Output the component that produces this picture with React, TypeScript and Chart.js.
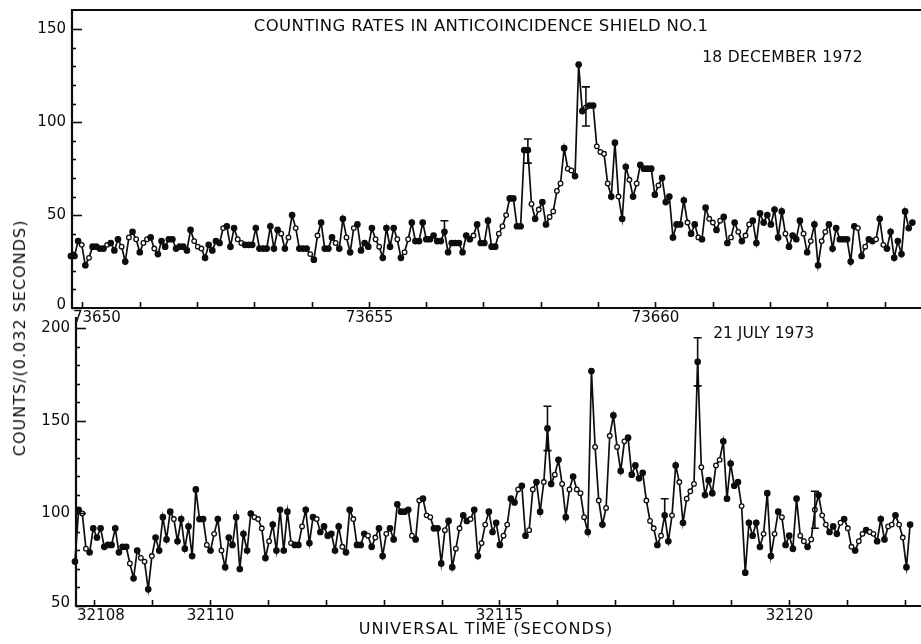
import React, { useEffect, useRef } from 'react';
import { Chart, registerables } from 'chart.js';

Chart.register(...registerables);

const INK = '#0d0d0d';
const FONT_FAMILY = '"DejaVu Sans", "Liberation Sans", sans-serif';

// Width of one counting bin along the time axis (seconds)
const BIN = 0.0633;

// ---- 18 December 1972 ----
const decStart = 73649.8;
const decCounts = [
  28, 28, 36, 34, 23, 27, 33, 33, 32, 32, 34, 35, 31, 37, 33, 25, 38, 41, 37, 30,
  35, 37, 38, 32, 29, 36, 33, 37, 37, 32, 33, 33, 31, 42, 36, 33, 32, 27, 34, 31,
  36, 35, 43, 44, 33, 43, 37, 35, 34, 34, 34, 43, 32, 32, 32, 44, 32, 42, 40, 32,
  38, 50, 43, 32, 32, 32, 29, 26, 39, 46, 32, 32, 38, 35, 32, 48, 38, 30, 43, 45,
  31, 35, 33, 43, 37, 33, 27, 43, 33, 43, 37, 27, 30, 37, 46, 36, 36, 46, 37, 37,
  39, 36, 36, 41, 30, 35, 35, 35, 30, 39, 37, 39, 45, 35, 35, 47, 33,
  33, 40, 44, 50, 59, 59, 44, 44, 85, 85, 56, 48, 53, 57, 45, 49, 52, 63, 67, 86,
  75, 74, 71, 131, 106, 108, 109, 109, 87, 84, 83, 67, 60, 89, 60, 48, 76, 69, 60, 67,
  77, 75, 75, 75, 61, 66, 70, 57, 60, 38, 45, 45, 58, 46, 40, 45, 38, 37, 54,
  48, 46, 42, 47, 49, 35, 38, 46, 41, 36, 39, 45, 47, 35, 51, 46, 50, 45, 53, 38,
  52, 40, 33, 39, 37, 47, 40, 30, 36, 45, 23, 36, 41, 45, 32, 43, 37, 37, 37, 25,
  44, 43, 28, 33, 37, 36, 37, 48, 34, 32, 41, 27, 36, 29, 52, 43, 46,
];
const decErrIndex = [103, 126, 142];
const decErrLow = [41, 78, 98];
const decErrHigh = [47, 91, 119];
const decTimeLabels = [73650, 73655, 73660];
const decCountLabels = [0, 50, 100, 150];

// ---- 21 July 1973 ----
const julStart = 32107.664;
const julCounts = [
  74, 102, 100, 81, 79, 92, 87, 92, 82, 83, 83, 92, 79, 82, 82, 73, 65, 80, 76, 74,
  59, 77, 87, 80, 98, 86, 101, 97, 85, 97, 81, 93, 77, 113, 97, 97, 83, 80, 89, 97,
  80, 71, 87, 83, 98, 70, 89, 80, 100, 98, 97, 92, 76, 85, 94, 80, 102,
  80, 101, 84, 83, 83, 93, 102, 84, 98, 97, 90, 93, 88, 89, 80, 93, 82, 79, 102, 97,
  83, 83, 89, 88, 82, 87, 92, 77, 89, 92, 86, 105, 101, 101, 102, 88, 86, 107, 108, 99,
  98, 92, 92, 73, 91, 96, 71, 81, 92, 99, 96, 97, 102, 77, 84, 94, 101, 90,
  95, 83, 88, 94, 108, 106, 113, 115, 88, 91, 113, 117, 101, 117, 146, 116, 121, 129, 116, 98,
  113, 120, 113, 111, 98, 90, 177, 136, 107, 94, 103, 142, 153, 136, 123, 139, 141, 121, 126, 119,
  122, 107, 96, 92, 83, 88, 99, 85, 99, 126, 117, 95, 108, 112, 116, 182, 125,
  110, 118, 111, 126, 129, 139, 108, 127, 115, 117, 104, 68, 95, 88, 95, 82, 89, 111, 77, 89,
  101, 98, 83, 88, 81, 108, 88, 85, 82, 86, 102, 110, 99, 94, 90, 93, 89, 95, 97, 92,
  82, 80, 85, 89, 91, 90, 89, 85, 97, 86, 93, 94, 99, 94, 87, 71, 94,
];
const julErrIndex = [129, 161, 170, 202];
const julErrLow = [134, 99, 169, 92];
const julErrHigh = [158, 108, 195, 112];
const julTimeLabels = [32108, 32110, 32115, 32120];
const julCountLabels = [50, 100, 150, 200];

type Note = { text: string; x: number; y: number; size: number; spacing: number };

interface PanelSpec {
  counts: number[];
  start: number;
  errIndex: number[];
  errLow: number[];
  errHigh: number[];
  xMin: number;
  xMax: number;
  yMin: number;
  yMax: number;
  timeLabels: number[];
  countLabels: number[];
  padding: { left: number; top: number; right: number; bottom: number };
  topBorder: boolean;
  notes: Note[];
  xTitle?: { text: string; x: number; size: number; spacing: number };
}

const decSpec: PanelSpec = {
  counts: decCounts,
  start: decStart,
  errIndex: decErrIndex,
  errLow: decErrLow,
  errHigh: decErrHigh,
  xMin: 73649.82,
  xMax: 73664.544,
  yMin: 0,
  yMax: 160.4,
  timeLabels: decTimeLabels,
  countLabels: decCountLabels,
  padding: { left: 72, top: 10, right: 0, bottom: 22 },
  topBorder: true,
  notes: [
    { text: 'COUNTING RATES IN ANTICOINCIDENCE SHIELD NO.1', x: 73656.96, y: 151.2, size: 16.5, spacing: 0.35 },
    { text: '18 DECEMBER 1972', x: 73662.22, y: 134.8, size: 15.5, spacing: 0.3 },
  ],
};

const julSpec: PanelSpec = {
  counts: julCounts,
  start: julStart,
  errIndex: julErrIndex,
  errLow: julErrLow,
  errHigh: julErrHigh,
  xMin: 32107.682,
  xMax: 32122.193,
  yMin: 50,
  yMax: 206.2,
  timeLabels: julTimeLabels,
  countLabels: julCountLabels,
  padding: { left: 76, top: 7, right: 0, bottom: 38 },
  topBorder: false,
  notes: [{ text: '21 JULY 1973', x: 32119.566, y: 197, size: 15.5, spacing: 0 }],
  xTitle: { text: 'UNIVERSAL TIME (SECONDS)', x: 32114.766, size: 16, spacing: 1 },
};

function font(size: number) {
  return `${size}px ${FONT_FAMILY}`;
}

// Axes drawn by hand so ticks point inwards like a printed figure
function makeFramePlugin(spec: PanelSpec) {
  return {
    id: 'panelFrame',
    afterDatasetsDraw(chart: any) {
      const { ctx } = chart;
      const xs = chart.scales.x;
      const ys = chart.scales.y;
      ctx.save();
      ctx.strokeStyle = INK;
      ctx.lineWidth = 1.6;
      spec.errIndex.forEach((idx, k) => {
        const x = xs.getPixelForValue(spec.start + idx * BIN);
        const yl = ys.getPixelForValue(spec.errLow[k]);
        const yh = ys.getPixelForValue(spec.errHigh[k]);
        const yv = ys.getPixelForValue(spec.counts[idx]);
        ctx.beginPath();
        ctx.moveTo(x, yl);
        ctx.lineTo(x, yh);
        ctx.moveTo(x - 4, yh);
        ctx.lineTo(x + 4, yh);
        if (yl - yv > 2) {
          ctx.moveTo(x - 4, yl);
          ctx.lineTo(x + 4, yl);
        }
        ctx.stroke();
      });
      ctx.restore();
    },
    afterDraw(chart: any) {
      const { ctx, chartArea } = chart;
      const xs = chart.scales.x;
      const ys = chart.scales.y;
      const left = chartArea.left;
      const right = chart.width;
      const top = chartArea.top;
      const bottom = chartArea.bottom;
      ctx.save();
      ctx.strokeStyle = INK;
      ctx.fillStyle = INK;

      // frame
      ctx.lineWidth = 2.2;
      ctx.beginPath();
      if (spec.topBorder) {
        ctx.moveTo(right, top);
        ctx.lineTo(left, top);
      } else {
        ctx.moveTo(left, top);
      }
      ctx.lineTo(left, bottom);
      ctx.lineTo(right, bottom);
      ctx.stroke();

      // count ticks every 10, labelled every 50
      ctx.lineWidth = 1.6;
      const topLabel = spec.countLabels[spec.countLabels.length - 1];
      ctx.font = font(15);
      ctx.textAlign = 'right';
      ctx.textBaseline = 'middle';
      for (let v = spec.yMin; v <= topLabel; v += 10) {
        const y = Math.round(ys.getPixelForValue(v)) + 0.5;
        const major = spec.countLabels.includes(v);
        ctx.beginPath();
        ctx.moveTo(left, y);
        ctx.lineTo(left + (major ? 10 : 4), y);
        ctx.stroke();
        if (major) {
          const dy = v === spec.yMin ? -3 : 0;
          ctx.fillText(String(v), left - 6, y + dy);
        }
      }

      // time ticks every second
      ctx.textBaseline = 'top';
      ctx.textAlign = 'left';
      for (let t = Math.ceil(spec.xMin); t <= Math.floor(spec.xMax); t++) {
        const x = Math.round(xs.getPixelForValue(t)) + 0.5;
        ctx.beginPath();
        ctx.moveTo(x, bottom);
        ctx.lineTo(x, bottom - 6);
        ctx.stroke();
        if (spec.timeLabels.includes(t)) {
          const label = String(t);
          const w = ctx.measureText(label).width;
          const lx = Math.max(x - w / 2, left + 1);
          ctx.fillText(label, lx, bottom + 3);
        }
      }

      // annotations
      ctx.textAlign = 'center';
      ctx.textBaseline = 'middle';
      for (const n of spec.notes) {
        ctx.font = font(n.size);
        (ctx as any).letterSpacing = `${n.spacing}px`;
        ctx.fillText(n.text, xs.getPixelForValue(n.x), ys.getPixelForValue(n.y));
      }
      if (spec.xTitle) {
        const t = spec.xTitle;
        ctx.font = font(t.size);
        (ctx as any).letterSpacing = `${t.spacing}px`;
        ctx.fillText(t.text, xs.getPixelForValue(t.x), bottom + 24);
      }
      ctx.restore();
    },
  };
}

// Turning points get solid markers, the rest open ones
function markerFills(counts: number[]) {
  return counts.map((c, i) => {
    const prev = i > 0 ? counts[i - 1] : c;
    const next = i < counts.length - 1 ? counts[i + 1] : c;
    const extreme = (c >= prev && c >= next) || (c <= prev && c <= next);
    return extreme ? INK : '#ffffff';
  });
}

function PanelChart({ spec, top, height }: { spec: PanelSpec; top: number; height: number }) {
  const ref = useRef<HTMLCanvasElement>(null);
  useEffect(() => {
    if (!ref.current) return;
    const points = spec.counts.map((c, i) => ({ x: spec.start + i * BIN, y: c }));
    const fills = markerFills(spec.counts);
    const chart = new Chart(ref.current, {
      type: 'line',
      data: {
        datasets: [
          {
            data: points,
            borderColor: INK,
            borderWidth: 1.7,
            tension: 0,
            pointRadius: fills.map((f) => (f === INK ? 2.7 : 2.3)),
            pointBorderWidth: 1.3,
            pointBorderColor: INK,
            pointBackgroundColor: fills,
            clip: false as any,
          },
        ],
      },
      options: {
        animation: false,
        responsive: false,
        maintainAspectRatio: false,
        events: [],
        layout: { padding: spec.padding },
        scales: {
          x: { type: 'linear', display: false, min: spec.xMin, max: spec.xMax },
          y: { type: 'linear', display: false, min: spec.yMin, max: spec.yMax },
        },
        plugins: { legend: { display: false }, tooltip: { enabled: false } },
      },
      plugins: [makeFramePlugin(spec)],
    });
    return () => chart.destroy();
  }, [spec]);
  return (
    <canvas
      ref={ref}
      width={921}
      height={height}
      style={{ position: 'absolute', left: 0, top, width: 921, height }}
    />
  );
}

export default function App() {
  return (
    <div
      style={{
        position: 'fixed',
        left: 0,
        top: 0,
        width: 921,
        height: 644,
        background: '#ffffff',
        overflow: 'hidden',
      }}
    >
      <PanelChart spec={decSpec} top={0} height={330} />
      <PanelChart spec={julSpec} top={310} height={334} />
      <div
        style={{
          position: 'absolute',
          left: 20,
          top: 338,
          transform: 'translate(-50%, -50%) rotate(-90deg)',
          whiteSpace: 'nowrap',
          font: `16px ${FONT_FAMILY}`,
          letterSpacing: '1px',
          lineHeight: 1,
          color: INK,
        }}
      >
        COUNTS/(0.032 SECONDS)
      </div>
    </div>
  );
}
